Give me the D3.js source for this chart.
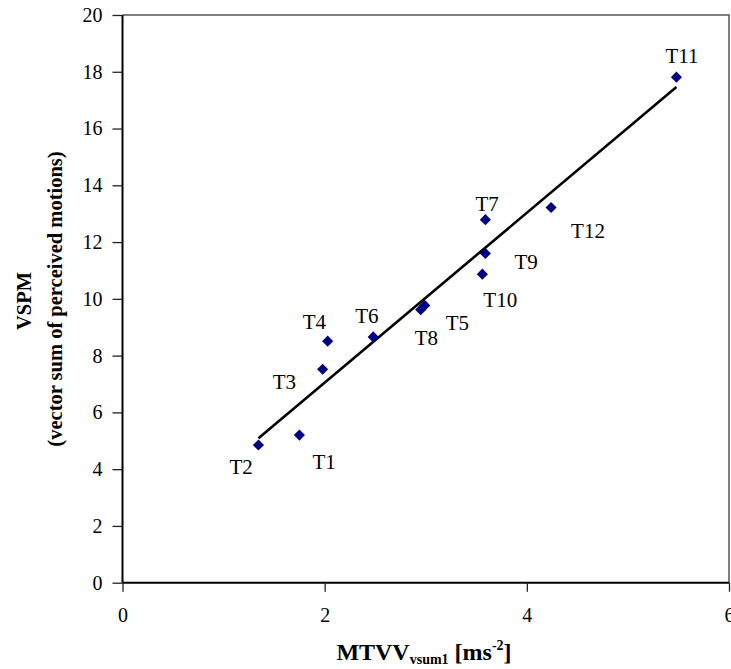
<!DOCTYPE html>
<html>
<head>
<meta charset="utf-8">
<script src="https://cdn.jsdelivr.net/npm/d3@7"></script>
<style>
  html, body { margin: 0; padding: 0; background: #fff; }
  svg { display: block; font-family: "Liberation Serif", "Times New Roman", serif; }
</style>
</head>
<body>
<svg id="chart" width="731" height="669"></svg>
<script>
// Test cases and their measured values
const testNames = ["T1", "T2", "T3", "T4", "T5", "T6", "T7", "T8", "T9", "T10", "T11", "T12"];
const mtvvValues = [1.75, 1.345, 1.98, 2.03, 2.99, 2.48, 3.59, 2.95, 3.59, 3.56, 5.48, 4.24];
const vspmValues = [5.20, 4.85, 7.52, 8.51, 9.77, 8.66, 12.79, 9.62, 11.60, 10.87, 17.81, 13.22];

const xTicks = [0, 2, 4, 6];
const yTicks = [0, 2, 4, 6, 8, 10, 12, 14, 16, 18, 20];

// Where each data label sits relative to its marker (px, text start / baseline)
const labelOffsets = {
  T1: [13, 34], T2: [-29, 29], T3: [-50, 20], T4: [-25, -12],
  T5: [21, 25], T6: [-18, -14], T7: [-10, -9], T8: [-6, 35],
  T9: [29, 16], T10: [1, 33], T11: [-11, -14], T12: [20, 31]
};

const svg = d3.select("#chart");
const plot = { left: 122.5, right: 729, top: 15, bottom: 582.7 };

const x = d3.scaleLinear().domain([0, 6]).range([plot.left, plot.right]);
const y = d3.scaleLinear().domain([0, 20]).range([plot.bottom, plot.top]);

const points = testNames.map((name, i) => ({ name, x: mtvvValues[i], y: vspmValues[i] }));

// Plot-area frame (top and right edges)
svg.append("path")
  .attr("d", `M${plot.left},${plot.top}H${plot.right}V${plot.bottom}`)
  .attr("fill", "none")
  .attr("stroke", "#555")
  .attr("stroke-width", 1.5);

// Axes
const xAxis = svg.append("g")
  .attr("transform", `translate(0,${plot.bottom})`)
  .call(d3.axisBottom(x).tickValues(xTicks).tickSize(9).tickPadding(16).tickFormat(d3.format("d")));
const yAxis = svg.append("g")
  .attr("transform", `translate(${plot.left},0)`)
  .call(d3.axisLeft(y).tickValues(yTicks).tickSize(10).tickPadding(10).tickFormat(d3.format("d")));

[xAxis, yAxis].forEach(g => {
  g.select(".domain").attr("stroke", "#000").attr("stroke-width", 2);
  g.selectAll(".tick line").attr("stroke", "#222").attr("stroke-width", 1.3);
  g.selectAll(".tick text")
    .attr("fill", "#000")
    .style("font-family", '"Liberation Serif", "Times New Roman", serif')
    .style("font-size", "20px");
});
// Remove the outer tick stubs d3 adds to the domain path
xAxis.select(".domain").attr("d", `M${plot.left},0H${plot.right}`);
yAxis.select(".domain").attr("d", `M0,${plot.bottom}V${plot.top}`);

// Least-squares trend line across the range of the data
const mx = d3.mean(mtvvValues), my = d3.mean(vspmValues);
const sxy = d3.sum(mtvvValues, (v, i) => (v - mx) * (vspmValues[i] - my));
const sxx = d3.sum(mtvvValues, v => (v - mx) * (v - mx));
const slope = sxy / sxx, intercept = my - slope * mx;
const [xMin, xMax] = d3.extent(mtvvValues);
const trend = [xMin, xMax].map(v => ({ x: v, y: intercept + slope * v }));

svg.append("path")
  .datum(trend)
  .attr("d", d3.line().x(d => x(d.x)).y(d => y(d.y)))
  .attr("fill", "none")
  .attr("stroke", "#000")
  .attr("stroke-width", 2.6);

// Diamond markers
const diamond = d3.symbol(d3.symbolSquare, 62);
svg.append("g").selectAll("path")
  .data(points)
  .join("path")
  .attr("d", diamond)
  .attr("transform", d => `translate(${x(d.x)},${y(d.y)}) rotate(45)`)
  .attr("fill", "#000080");

// Data labels
svg.append("g").selectAll("text")
  .data(points)
  .join("text")
  .attr("x", d => x(d.x) + labelOffsets[d.name][0])
  .attr("y", d => y(d.y) + labelOffsets[d.name][1])
  .style("font-size", "21px")
  .attr("fill", "#000")
  .text(d => d.name);

// Y axis title (two lines)
const yTitle = svg.append("g").style("font-weight", "bold").style("font-size", "20.5px");
yTitle.append("text")
  .attr("transform", "translate(31,301) rotate(-90)")
  .attr("text-anchor", "middle")
  .text("VSPM");
yTitle.append("text")
  .attr("transform", "translate(62,299) rotate(-90)")
  .attr("text-anchor", "middle")
  .text("(vector sum of perceived motions)");

// X axis title with subscript and superscript
const xTitle = svg.append("text")
  .attr("x", 424)
  .attr("y", 660)
  .attr("text-anchor", "middle")
  .style("font-weight", "bold")
  .style("font-size", "24px");
xTitle.append("tspan").text("MTVV");
xTitle.append("tspan").attr("dy", 4).style("font-size", "14px").text("vsum1");
xTitle.append("tspan").attr("dy", -4).text(" [ms");
xTitle.append("tspan").attr("dy", -10).style("font-size", "14px").text("-2");
xTitle.append("tspan").attr("dy", 10).text("]");
</script>
</body>
</html>
